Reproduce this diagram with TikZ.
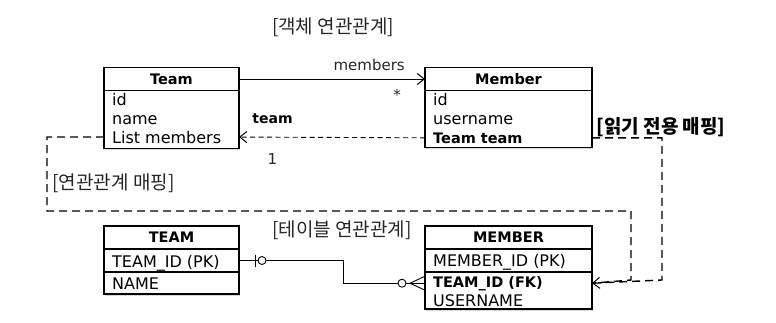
\documentclass[tikz,border=0pt]{standalone}
\usepackage{fontspec}
\setmainfont{DejaVu Sans}
\newfontfamily\kr{Noto Sans CJK KR}
\usetikzlibrary{positioning,arrows.meta,calc,shadows}

\begin{document}
\begin{tikzpicture}[x=1pt,y=-1pt,
  box/.style={draw,line width=1.2pt,fill=white,outer sep=0pt,inner sep=0pt,
    drop shadow={shadow xshift=1.2pt,shadow yshift=-1.5pt,opacity=0.3}},
  hdr/.style={box,font=\fontsize{14.5}{16}\selectfont\bfseries},
  row/.style={anchor=base west,inner sep=0pt,font=\fontsize{16}{18}\selectfont},
  rowb/.style={row,font=\fontsize{14.5}{16}\selectfont\bfseries},
  lbl/.style={text=black!85,font=\fontsize{15}{18}\selectfont},
  krlbl/.style={text=black!85,font=\kr\fontsize{19}{22}\selectfont},
  conn/.style={line width=0.9pt},
  barb/.style={-{Straight Barb[length=7pt,width=11pt,line width=1pt]}},
  mapline/.style={line width=1.4pt,draw=black,dash pattern=on 8pt off 5pt}]
\useasboundingbox (0,0) rectangle (776,322);
% object model: Team / Member classes
\node[hdr,minimum width=135pt,minimum height=23pt] (team) at (171.5,79) {Team};
\node[box,minimum width=135pt,minimum height=58pt,below=0pt of team] (teamb) {};
\node[row] (tid) at (112,105) {id};
\node[row] (tname) at (112,124) {name};
\node[row] (tlist) at (112,143) {List members};
\node[hdr,minimum width=167pt,minimum height=23pt] (member) at (508.5,79) {Member};
\node[box,minimum width=167pt,minimum height=57pt,below=0pt of member] (memberb) {};
\node[row] (mid) at (433,105) {id};
\node[row] (muser) at (433,124) {username};
\node[rowb] (mteam) at (433,143) {Team team};
% table model: TEAM / MEMBER
\node[hdr,minimum width=135pt,minimum height=23pt] (tbteam) at (171.5,237.5) {TEAM};
\node[box,minimum width=135pt,minimum height=23pt,below=0pt of tbteam] (tpk) {};
\node[box,minimum width=135pt,minimum height=22pt,below=0pt of tpk] (tnm) {};
\node[row] (tpktxt) at (112,267) {TEAM\_ID (PK)};
\node[row] (tnmtxt) at (112,289) {NAME};
\node[hdr,minimum width=167pt,minimum height=23pt] (tbmember) at (508.5,237.5) {MEMBER};
\node[box,minimum width=167pt,minimum height=23pt,below=0pt of tbmember] (mpk) {};
\node[box,minimum width=167pt,minimum height=37pt,below=0pt of mpk] (mbody) {};
\node[row] (mpktxt) at (433,266) {MEMBER\_ID (PK)};
\node[rowb] (mfk) at (433,287) {TEAM\_ID (FK)};
\node[row] (mname) at (433,306) {USERNAME};
% titles
\node[krlbl] (objrel) at (333,27) {[객체 연관관계]};
\node[krlbl] (tblrel) at (342,230) {[테이블 연관관계]};
\node[krlbl,anchor=west] (mapping) at (49,183) {[연관관계 매핑]};
\node[krlbl,font=\kr\fontsize{19}{22}\selectfont\bfseries,text=black] (romap) at (661,127) {[읽기 전용 매핑]};
% associations
\draw[conn,barb] (team.east) -- node[lbl,above=5pt,pos=0.7] {members}
  node[lbl,below=7pt,pos=0.85] {*} (member.west);
\draw[conn,dash pattern=on 5pt off 3.5pt,barb] (memberb.west |- mteam.west)
  -- node[pos=0.82,above=10pt,font=\fontsize{14}{16}\selectfont\bfseries] {team}
  node[lbl,pos=0.82,below=13pt] {1} (teamb.east |- tlist.west);
% mapping loops
\coordinate (mapL) at (47,211);
\coordinate (mapR) at (631,280);
\coordinate (roR) at (662,280);
\coordinate (fkend) at (mbody.east |- mfk.west);
\draw[mapline] (teamb.west |- tlist.west) -| (mapL) -| (mapR) -- (fkend);
\draw[mapline,barb] (memberb.east |- mteam.west) -| (roR) -- (fkend);
% FK relation
\coordinate (fkin) at (mbody.west |- mfk.west);
\draw[conn] (tpk.east) -- ++(104,0) |- (fkin);
\draw[conn] ($(tpk.east)+(16,-6)$) -- ($(tpk.east)+(16,6)$);
\draw[conn,fill=white] ($(tpk.east)+(23,0)$) circle (4);
\draw[conn,fill=white] ($(fkin)+(-23,0)$) circle (4);
\draw[conn] ($(fkin)+(0,-7)$) -- ($(fkin)+(-15,0)$) -- ($(fkin)+(0,7)$);
\end{tikzpicture}
\end{document}
